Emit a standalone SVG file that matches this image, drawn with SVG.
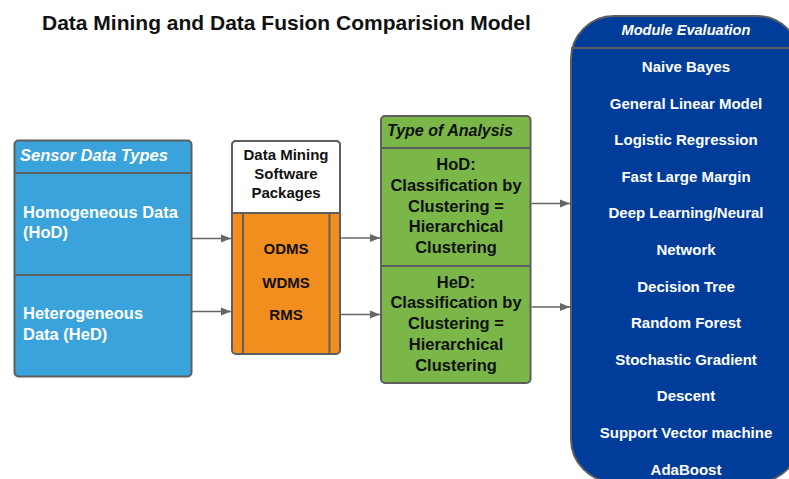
<svg xmlns="http://www.w3.org/2000/svg" width="789" height="479" viewBox="0 0 789 479">
<style>
text{font-family:"Liberation Sans",Arial,sans-serif;font-weight:bold}
.box{stroke:#5e5e5e;stroke-width:2}
.sep{stroke:#5e5e5e;stroke-width:2;fill:none}
.w{fill:#ffffff}
.k{fill:#111111}
.it{font-style:italic}
.c{text-anchor:middle}
.conn{stroke:#666666;stroke-width:1.5;fill:none;marker-end:url(#ah)}
</style>
<defs>
<marker id="ah" viewBox="0 0 10 10" refX="10" refY="5" markerWidth="10" markerHeight="10" markerUnits="userSpaceOnUse" orient="auto">
<path d="M0,1 L10,5 L0,9 Z" fill="#666666"/>
</marker>
</defs>
<rect width="789" height="479" fill="#ffffff"/>
<text x="42" y="29.5" font-size="21" class="k">Data Mining and Data Fusion Comparision Model</text>

<g id="sensor">
<rect class="box" x="14.5" y="140.5" width="177" height="236" rx="4" fill="#3aa3dc"/>
<line class="sep" x1="14.5" y1="173" x2="191.5" y2="173"/>
<line class="sep" x1="14.5" y1="275" x2="191.5" y2="275"/>
<text x="20" y="160.8" font-size="16.5" class="w it">Sensor Data Types</text>
<text x="23" y="217.5" font-size="16.5" class="w">Homogeneous Data</text>
<text x="23" y="238" font-size="16.5" class="w">(HoD)</text>
<text x="23" y="319" font-size="16.5" class="w">Heterogeneous</text>
<text x="23" y="340" font-size="16.5" class="w">Data (HeD)</text>
</g>

<g id="software">
<rect class="box" x="232" y="141" width="108" height="213" rx="4" fill="#f18e1d"/>
<path d="M232,213 V145 a4,4 0 0 1 4,-4 H336 a4,4 0 0 1 4,4 V213 Z" fill="#ffffff" class="box"/>
<line class="sep" x1="243" y1="213" x2="243" y2="354"/>
<line class="sep" x1="329.5" y1="213" x2="329.5" y2="354"/>
<text x="286" y="160.3" font-size="15" class="k c">Data Mining</text>
<text x="286" y="178.6" font-size="15" class="k c">Software</text>
<text x="286" y="197.6" font-size="15" class="k c">Packages</text>
<text x="286" y="254.3" font-size="15" class="k c">ODMS</text>
<text x="286" y="288" font-size="15" class="k c">WDMS</text>
<text x="286" y="319.6" font-size="15" class="k c">RMS</text>
</g>

<g id="analysis">
<rect class="box" x="381" y="116" width="149.5" height="267" rx="4" fill="#7ab648"/>
<line class="sep" x1="381" y1="148" x2="530.5" y2="148"/>
<line class="sep" x1="381" y1="266" x2="530.5" y2="266"/>
<text x="387" y="135.7" font-size="16" class="k it">Type of Analysis</text>
<text x="456" y="170" font-size="16.5" class="k c">HoD:</text>
<text x="456" y="190.8" font-size="16.5" class="k c">Classification by</text>
<text x="456" y="211.6" font-size="16.5" class="k c">Clustering =</text>
<text x="456" y="232.4" font-size="16.5" class="k c">Hierarchical</text>
<text x="456" y="253.2" font-size="16.5" class="k c">Clustering</text>
<text x="456" y="287.5" font-size="16.5" class="k c">HeD:</text>
<text x="456" y="308.3" font-size="16.5" class="k c">Classification by</text>
<text x="456" y="329.1" font-size="16.5" class="k c">Clustering =</text>
<text x="456" y="349.9" font-size="16.5" class="k c">Hierarchical</text>
<text x="456" y="370.7" font-size="16.5" class="k c">Clustering</text>
</g>

<g id="evaluation">
<rect class="box" x="571" y="16" width="229" height="466" rx="43" fill="#003d9b"/>
<line class="sep" x1="571" y1="48" x2="789" y2="48"/>
<text x="686" y="35.3" font-size="14.6" class="w it c">Module Evaluation</text>
<text x="686" y="72" font-size="15" class="w c">Naive Bayes</text>
<text x="686" y="108.6" font-size="15" class="w c">General Linear Model</text>
<text x="686" y="145.2" font-size="15" class="w c">Logistic Regression</text>
<text x="686" y="181.8" font-size="15" class="w c">Fast Large Margin</text>
<text x="686" y="218.4" font-size="15" class="w c">Deep Learning/Neural</text>
<text x="686" y="255" font-size="15" class="w c">Network</text>
<text x="686" y="291.6" font-size="15" class="w c">Decision Tree</text>
<text x="686" y="328.2" font-size="15" class="w c">Random Forest</text>
<text x="686" y="364.8" font-size="15" class="w c">Stochastic Gradient</text>
<text x="686" y="401.4" font-size="15" class="w c">Descent</text>
<text x="686" y="438" font-size="15" class="w c">Support Vector machine</text>
<text x="686" y="474.6" font-size="15" class="w c">AdaBoost</text>
</g>

<g id="connectors">
<line class="conn" x1="192" y1="238.5" x2="231" y2="238.5"/>
<line class="conn" x1="192" y1="311.5" x2="231" y2="311.5"/>
<line class="conn" x1="341" y1="238" x2="380" y2="238"/>
<line class="conn" x1="341" y1="314.5" x2="380" y2="314.5"/>
<line class="conn" x1="531.5" y1="203.5" x2="570" y2="203.5"/>
<line class="conn" x1="531.5" y1="307" x2="570" y2="307"/>
</g>
</svg>
